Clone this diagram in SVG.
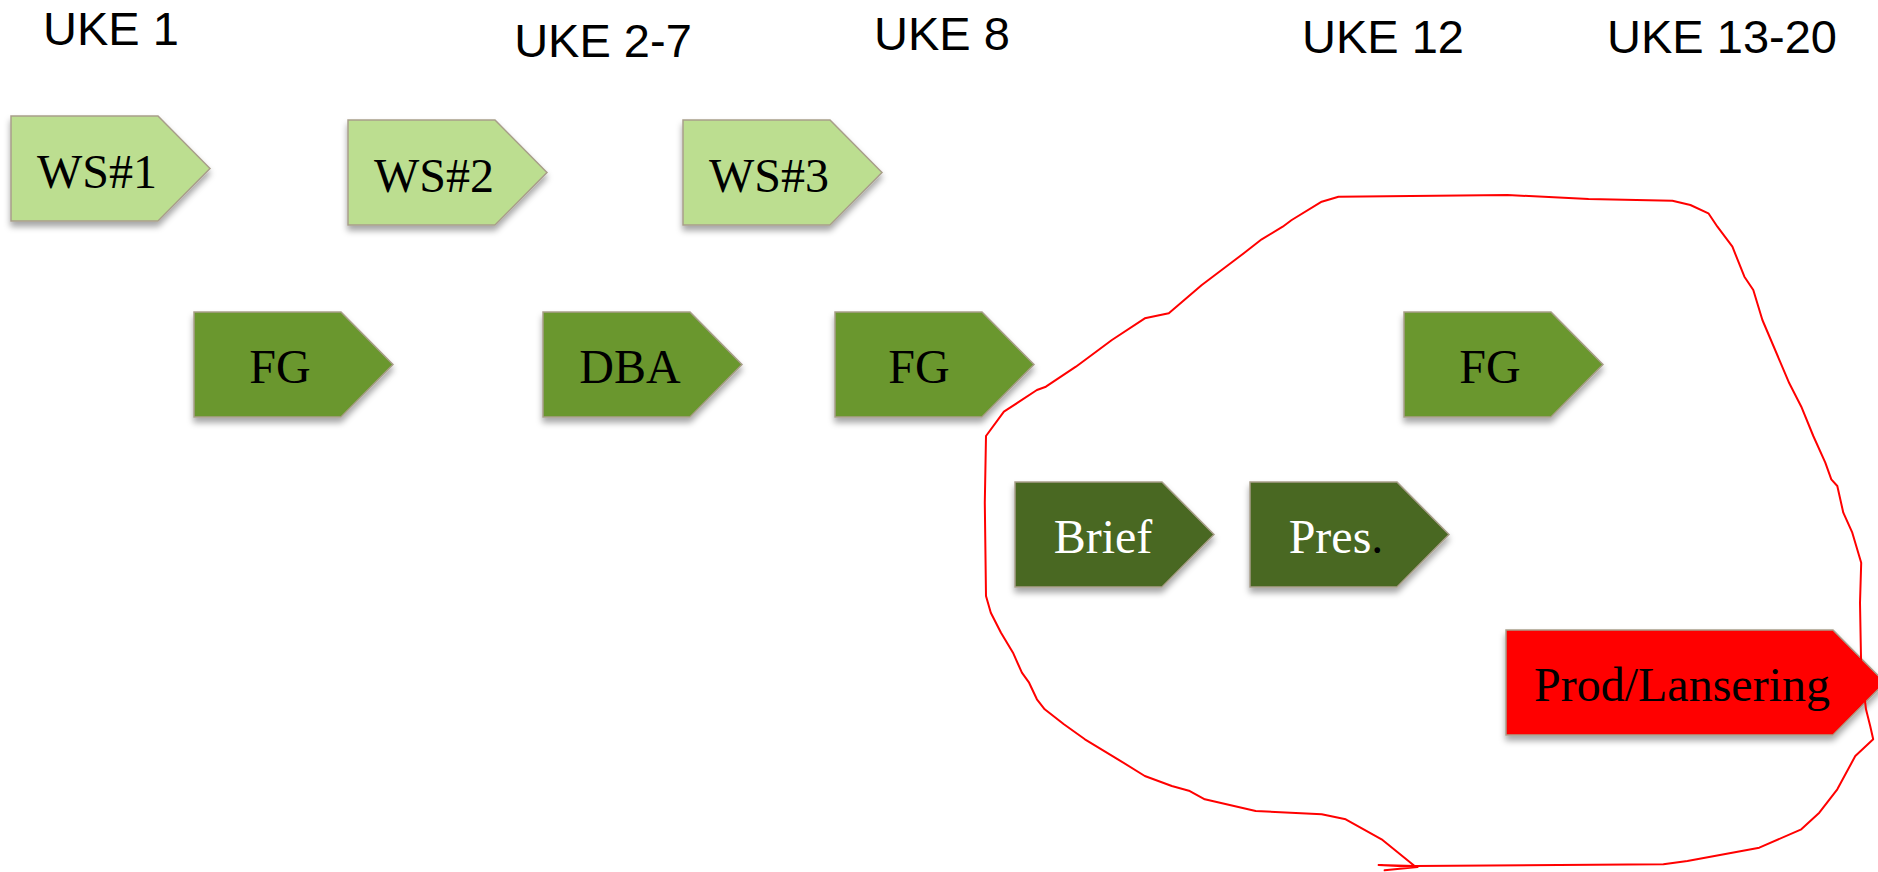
<svg xmlns="http://www.w3.org/2000/svg" width="1878" height="872" viewBox="0 0 1878 872">
<defs>
<style>
.hdr{font-family:"Liberation Sans",Arial,sans-serif;font-size:47px;fill:#000;text-anchor:middle}
.lbl{font-family:"Liberation Serif","Times New Roman",serif;font-size:48px;text-anchor:middle}
.shape{stroke:#a89e8a;stroke-width:1.5;filter:url(#sh)}
.light{fill:#bcde90}
.mid{fill:#6b972f}
.dark{fill:#4a6723}
.red{fill:#ff0000}
.loop{fill:none;stroke:#ff0000;stroke-width:2;stroke-linejoin:round;stroke-linecap:round}
</style>
<filter id="sh" x="-10%" y="-10%" width="130%" height="140%">
<feDropShadow dx="0" dy="5" stdDeviation="3" flood-color="#000" flood-opacity="0.35"/>
</filter>
<path id="arrow" d="M0,0 H147 L199,52.5 L147,105 H0 Z"/>
</defs>
<rect width="1878" height="872" fill="#fff"/>
<g id="headers">
<text class="hdr" x="111" y="45">UKE 1</text>
<text class="hdr" x="603" y="57">UKE 2-7</text>
<text class="hdr" x="942" y="50">UKE 8</text>
<text class="hdr" x="1383" y="53">UKE 12</text>
<text class="hdr" x="1722" y="53">UKE 13-20</text>
</g>
<g id="ws1"><use href="#arrow" class="shape light" x="11" y="116"/><text class="lbl" x="97" y="188" fill="#000">WS#1</text></g>
<g id="ws2"><use href="#arrow" class="shape light" x="348" y="120"/><text class="lbl" x="434" y="192" fill="#000">WS#2</text></g>
<g id="ws3"><use href="#arrow" class="shape light" x="683" y="120"/><text class="lbl" x="769" y="192" fill="#000">WS#3</text></g>
<g id="fg1"><use href="#arrow" class="shape mid" x="194" y="312"/><text class="lbl" x="280" y="383" fill="#000">FG</text></g>
<g id="dba"><use href="#arrow" class="shape mid" x="543" y="312"/><text class="lbl" x="630" y="383" fill="#000">DBA</text></g>
<g id="fg2"><use href="#arrow" class="shape mid" x="835" y="312"/><text class="lbl" x="919" y="383" fill="#000">FG</text></g>
<g id="fg3"><use href="#arrow" class="shape mid" x="1404" y="312"/><text class="lbl" x="1490" y="383" fill="#000">FG</text></g>
<g id="brief"><use href="#arrow" class="shape dark" x="1015" y="482"/><text class="lbl" x="1103" y="553" fill="#fff">Brief</text></g>
<g id="pres"><use href="#arrow" class="shape dark" x="1250" y="482"/><text class="lbl" x="1336" y="553" fill="#fff">Pres<tspan fill="#000">.</tspan></text></g>
<g id="prod"><path class="shape red" d="M1506,630 H1833 L1885,682.5 L1833,735 H1506 Z"/><text class="lbl" x="1682" y="701" fill="#000">Prod/Lansering</text></g>
<g id="connectors">
<path class="loop" d="M986,436 L984.8,502.7 L986,596 L990.8,612.7 L1001,632.7 L1013,652.7 L1021.9,672.7 L1029.1,682.7 L1036.9,699.3 L1044.7,709.3 L1063.9,724.3 L1084.9,739.3 L1117.9,759.3 L1144.8,776 L1171.8,786 L1189.8,791 L1204.8,799.3 L1255.7,811 L1321.7,814.3 L1345.7,819.3 L1381.6,839.3 L1414.6,866 L1378.6,865 L1417.6,867 L1384.6,870.3 M1414.6,866 L1663.4,864.3 L1687.4,861 L1759.3,847.7 L1801.3,829.3 L1819.3,812.7 L1837.3,789.3 L1855.3,756 L1873.2,739.3 L1870.2,726 L1866,709.3 L1861.2,669.3 L1860,602.7 L1861.2,562.7 L1852.3,532.7 L1843.3,512.7 L1837.3,486 L1831.3,479.3 L1825.3,462.7 L1813.3,436 L1801.3,406.7 L1789.3,383.3 L1762.4,320 L1753.3,290 L1744.4,276.7 L1732.4,246.7 L1717.4,226.7 L1708.4,213.3 L1690.4,205 L1672.4,200.7 L1588.5,199 L1507.5,195 L1338.5,196.7 L1321.7,201.7 L1291.7,220 L1282.7,226.7 L1261.7,239.3 L1243.8,253.3 L1201.8,285 L1168.8,313.3 L1144.8,318.3 L1111.9,340 L1075.9,366.7 L1045.9,386.7 L1036.9,390 L1003.9,411.7 L986,436"/>
</g>
</svg>
